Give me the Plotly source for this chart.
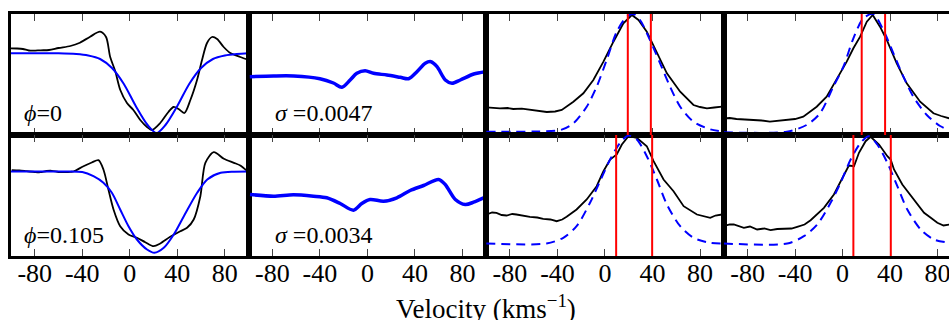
import plotly.graph_objects as go

# ---------------- data ----------------
tick_vals = [-80, -40, 0, 40, 80]
tick_text = ["-80", "-40", "0", "40", "80"]

# Row 1 (phi = 0)
p1_obs_v = [-100, -95, -90, -85, -81, -75, -68, -60, -50, -42, -33.4, -25, -20, -16.5, -12.3, -8, -2.4, 3, 8.8, 14.5, 18.6, 25.6, 32.5, 36.9, 41, 46, 51, 56.6, 60.8, 65, 69.2, 73.5, 79, 84.6, 93, 100]
p1_obs_f = [86.7, 86.5, 86, 84.5, 84.3, 84.7, 85, 87, 89, 92.3, 98.3, 103.3, 98, 78, 64, 45, 32, 25, 15, 8, 5, 12, 23, 28, 26, 22, 35, 55, 75, 92, 98, 96, 88, 82, 78, 75]
p1_fit_v = [-100, -60, -45, -35, -25, -15, -5, 5, 15, 22.5, 30, 40, 50, 60, 70, 80, 90, 100]
p1_fit_f = [81.7, 81.7, 81, 79.5, 76, 67, 51, 29, 10, 2, 10, 29, 51, 67, 76, 79.5, 81, 81.7]

p2_res_v = [-99, -79, -62, -40, -28.6, -21.5, -14.5, -8.9, -1.9, 5.2, 16.4, 27.7, 34.7, 41.7, 48.7, 53.5, 58.6, 65.6, 71.2, 78.2, 89.5, 99.3]
p2_res_f = [58.3, 59, 59, 56.3, 52, 47.7, 55, 61.7, 64.3, 61.7, 60, 57.7, 56.3, 63.3, 71.7, 73.3, 68.3, 55, 51.7, 55, 61, 63.3]

p3_obs_v = [-99.7, -93, -88.4, -82, -77.2, -70, -63.2, -55, -49, -42, -36.4, -26.6, -18.2, -9.8, -1.3, 7.1, 15.5, 22.6, 28.2, 35.2, 43.7, 52.1, 63.3, 74.5, 80, 85.8, 92, 98.5]
p3_obs_f = [27.7, 27, 26.7, 27, 26, 26.3, 25, 24, 23, 23.5, 25, 33.3, 41.7, 55, 73.3, 93.3, 111.7, 120, 115, 103.3, 81.7, 61.7, 43.3, 30, 28, 26.7, 27.5, 28.3]
p3_fit_v = [-100, -60, -37.4, -26.6, -15.4, -7, 1.4, 9.9, 18.3, 23.9, 29.5, 37.9, 46.4, 54.8, 63.3, 74.5, 88.6, 100]
p3_fit_f = [3.3, 3.5, 5, 11.7, 28.3, 48.3, 75, 103.3, 118.3, 121, 115, 95, 71.7, 48.3, 28.3, 13.3, 5.7, 3.3]
p3_marks = [19.2, 38.6]

p4_obs_v = [-100, -95, -89.3, -82, -75.3, -68, -61.2, -54, -47.1, -40, -33.1, -21.8, -13.4, -5, 3.5, 9.1, 14.8, 20.4, 25.4, 31.5, 37.2, 45.6, 54, 65.3, 76.5, 83, 89.7]
p4_obs_f = [16.7, 17, 16, 15.5, 14.3, 14.5, 13.3, 14, 15, 16, 18.3, 28.3, 38.3, 55, 73.3, 86.7, 98.3, 113.3, 120, 108.3, 95, 71.7, 51.7, 33.3, 21.7, 19, 16.7]
p4_fit_v = [-100, -47, -30.3, -19, -7.8, 0.7, 9.1, 17.5, 25.9, 34.3, 42.8, 51.2, 59.6, 70.9, 82.1, 89.7]
p4_fit_f = [2.7, 3.3, 10, 21.7, 48.3, 68.3, 96.7, 116.7, 121, 105, 81.7, 58.3, 38.3, 20, 9, 5]
p4_marks = [16.1, 35.8]

# Row 2 (phi = 0.105)
p5_obs_v = [-99.4, -93, -86.8, -80, -75.5, -70, -65.7, -60, -55.9, -50, -47.4, -39, -32, -26.4, -22.2, -18, -13.7, -8.1, -1.1, 6, 13, 20, 25.6, 34, 42.5, 48.2, 53.8, 59.4, 63.6, 70.7, 79.2, 87.6, 93, 98.9]
p5_obs_f = [85.8, 85.5, 84.8, 84, 83.8, 85, 85.2, 84, 83.8, 84.2, 84.5, 89.8, 93.5, 95.8, 86.5, 66.5, 46.5, 29.8, 21.5, 18.2, 13.8, 9.8, 12.5, 19.2, 24.8, 28.2, 36.5, 59.8, 93.2, 103.8, 97.2, 93.2, 90.5, 84.8]
p5_fit_v = [-100, -60, -40, -30.6, -22.2, -15.1, -8.1, -1.1, 6, 14.5, 20.7, 28.6, 37, 45.5, 56.7, 65.2, 76.5, 88, 100]
p5_fit_f = [84.5, 84.5, 84, 79.8, 73.2, 63.2, 46.5, 29.8, 16.5, 6.5, 3.2, 8.2, 21.5, 39.8, 63.2, 76.5, 83.2, 84.3, 84.5]

p6_res_v = [-98.8, -79.1, -62.3, -45.4, -34.2, -22.9, -11.7, -4.7, 2.3, 13.6, 24.8, 36, 47.3, 59.9, 65.5, 74, 82.4, 89.4, 97.8]
p6_res_f = [61.5, 59.8, 61.2, 59.8, 58.2, 52.5, 45.8, 52.5, 56.5, 54.8, 58.2, 65.5, 70.5, 76.5, 71.5, 56.5, 51.5, 53.8, 58.2]

p7_obs_v = [-99.7, -95, -91.3, -87, -82.9, -78, -74.5, -68, -63.2, -57, -52, -46, -40.7, -36, -32.3, -23.9, -15.4, -7, -1.3, 4.3, 9.9, 14.2, 19.8, 26.8, 35.2, 40.9, 49.3, 57.7, 66.2, 77.4, 83, 88.6, 93, 98.5]
p7_obs_f = [41.5, 43.5, 43.2, 41, 40.5, 42, 41.5, 40, 39.2, 38.5, 37.2, 36.5, 34.8, 36.5, 39.2, 46.5, 56.5, 69.8, 84.8, 96.5, 101.5, 111.5, 119.8, 118.2, 109.8, 94.8, 76.5, 64.8, 49.8, 41.5, 39.5, 38.2, 40.5, 41.5]
p7_fit_v = [-100, -49.2, -35.1, -23.9, -12.6, -4.2, 4.3, 12.7, 19.8, 26.8, 35.2, 43.7, 52.1, 63.3, 74.5, 88.6, 100]
p7_fit_f = [12.5, 12.5, 18.2, 29.8, 53.2, 74.8, 96.5, 113.2, 120.5, 116.5, 99.8, 76.5, 51.5, 29.8, 18.2, 13.2, 12.5]
p7_marks = [9.4, 39.7]

p8_obs_v = [-100, -95, -91.6, -87, -83.1, -78, -71.9, -66, -60.6, -55, -49.4, -43, -38.2, -32, -26.9, -15.7, -7.3, 1.1, 5.3, 9.6, 13.8, 19.4, 23.6, 30.7, 37.7, 40.5, 43.3, 50.3, 58.7, 68.6, 74, 79.8, 85, 90.2]
p8_obs_f = [29.8, 31.5, 31.5, 29.5, 28.2, 29.5, 26.5, 27.5, 25.8, 27, 27.2, 27.5, 29.2, 31.5, 35.8, 48.2, 61.5, 81.5, 90.5, 89.8, 103.2, 114.8, 119.2, 111.5, 99.8, 96.5, 86.5, 71.5, 58.2, 43.2, 38.5, 33.2, 30.5, 31.5]
p8_fit_v = [-100, -46.6, -32.6, -21.3, -10.1, -1.7, 6.8, 15.2, 22.2, 29.2, 37.7, 46.1, 54.5, 65.8, 77, 90.2]
p8_fit_f = [12.5, 12.5, 19.8, 31.5, 53.2, 73.2, 96.5, 113.2, 119.8, 111.5, 93.2, 69.8, 46.5, 26.5, 16.5, 13.2]
p8_marks = [9.1, 40.6]

labels_phi = ["<i>ϕ</i>=0", "<i>ϕ</i>=0.105"]
labels_sigma = ["<i>σ</i> =0.0047", "<i>σ</i> =0.0034"]

# ---------------- figure ----------------
FONT = "Liberation Serif"
fig = go.Figure()

def ax(n):
    return ("x" if n == 1 else f"x{n}"), ("y" if n == 1 else f"y{n}")

def add_line(n, xs, ys, color, width, dash="solid", shape="spline"):
    xa, ya = ax(n)
    fig.add_trace(go.Scatter(x=xs, y=ys, mode="lines", xaxis=xa, yaxis=ya,
                             line=dict(color=color, width=width, dash=dash,
                                       shape=shape, smoothing=0.8 if shape == "spline" else None),
                             showlegend=False, hoverinfo="skip"))

BLK, BLU, RED = "#000000", "#0000ff", "#ff0000"
DASH = "9px,6px"

add_line(1, p1_obs_v, p1_obs_f, BLK, 1.8)
add_line(1, p1_fit_v, p1_fit_f, BLU, 2)
add_line(2, p2_res_v, p2_res_f, BLU, 3.5)
add_line(3, p3_obs_v, p3_obs_f, BLK, 1.8, shape="linear")
add_line(3, p3_fit_v, p3_fit_f, BLU, 2, dash=DASH)
add_line(4, p4_obs_v, p4_obs_f, BLK, 1.8, shape="linear")
add_line(4, p4_fit_v, p4_fit_f, BLU, 2, dash=DASH)
add_line(5, p5_obs_v, p5_obs_f, BLK, 1.8)
add_line(5, p5_fit_v, p5_fit_f, BLU, 2)
add_line(6, p6_res_v, p6_res_f, BLU, 3.5)
add_line(7, p7_obs_v, p7_obs_f, BLK, 1.8, shape="linear")
add_line(7, p7_fit_v, p7_fit_f, BLU, 2, dash=DASH)
add_line(8, p8_obs_v, p8_obs_f, BLK, 1.8, shape="linear")
add_line(8, p8_fit_v, p8_fit_f, BLU, 2, dash=DASH)

for n, marks in ((3, p3_marks), (4, p4_marks), (7, p7_marks), (8, p8_marks)):
    xa, ya = ax(n)
    for m in marks:
        fig.add_shape(type="line", xref=xa, yref=f"{ya} domain", x0=m, x1=m, y0=0, y1=1,
                      line=dict(color=RED, width=2), layer="above")

# panel geometry (plot area: 938 px wide starting at 11px; panels 237.6 px wide)
x_edges = [0, 0.2533, 0.5066, 0.7599, 1.0]
layout = {}
for n in range(1, 9):
    col = (n - 1) % 4
    row = (n - 1) // 4
    xa, ya = ax(n)
    xkey = "xaxis" if n == 1 else f"xaxis{n}"
    ykey = "yaxis" if n == 1 else f"yaxis{n}"
    xr = [-100, 89.6] if col == 3 else [-100, 100]
    layout[xkey] = dict(domain=[x_edges[col], x_edges[col + 1]], anchor=ya, range=xr,
                        showline=True, linewidth=2.5, linecolor="black", mirror="allticks",
                        ticks="inside", ticklen=7, tickwidth=1, tickcolor="#444",
                        tickvals=tick_vals, ticktext=tick_text, automargin=False,
                        ticklabelstandoff=-8, ticklabeloverflow="allow",
                        showticklabels=(row == 1), showgrid=False, zeroline=False,
                        tickfont=dict(family=FONT, size=26, color="black"))
    layout[ykey] = dict(domain=[0.5, 1.0] if row == 0 else [0.0, 0.5], anchor=xa,
                        range=[0, 121], showline=True, linewidth=2.5, linecolor="black",
                        mirror=(col != 3), ticks="", showticklabels=False, automargin=False,
                        showgrid=False, zeroline=False)

annotations = []
for i, row_y in enumerate([22, 21.5]):
    n1 = 1 + 4 * i
    n2 = 2 + 4 * i
    xa1, ya1 = ax(n1)
    xa2, ya2 = ax(n2)
    annotations.append(dict(x=-90.7, y=row_y, xref=xa1, yref=ya1, text=labels_phi[i],
                            showarrow=False, xanchor="left", yanchor="middle",
                            font=dict(family=FONT, size=24, color="black")))
    annotations.append(dict(x=-79.5, y=row_y, xref=xa2, yref=ya2, text=labels_sigma[i],
                            showarrow=False, xanchor="left", yanchor="middle",
                            font=dict(family=FONT, size=24, color="black")))
annotations.append(dict(x=0.5064, y=-0.132, xref="paper", yref="paper",
                        text="Velocity (kms<sup>−1</sup>)", showarrow=False,
                        xanchor="center", yanchor="top",
                        font=dict(family=FONT, size=27, color="black")))

fig.update_layout(template="none", width=949, height=320, margin=dict(l=11, r=0, t=14, b=64),
                  paper_bgcolor="white", plot_bgcolor="white", font=dict(family=FONT),
                  annotations=annotations, showlegend=False, **layout)

fig.write_html("out.html", config={"displayModeBar": False},
               post_script="document.body.style.margin='0';document.body.style.padding='0';"
                           "document.body.style.overflow='hidden';"
                           "document.documentElement.style.overflow='hidden';")
